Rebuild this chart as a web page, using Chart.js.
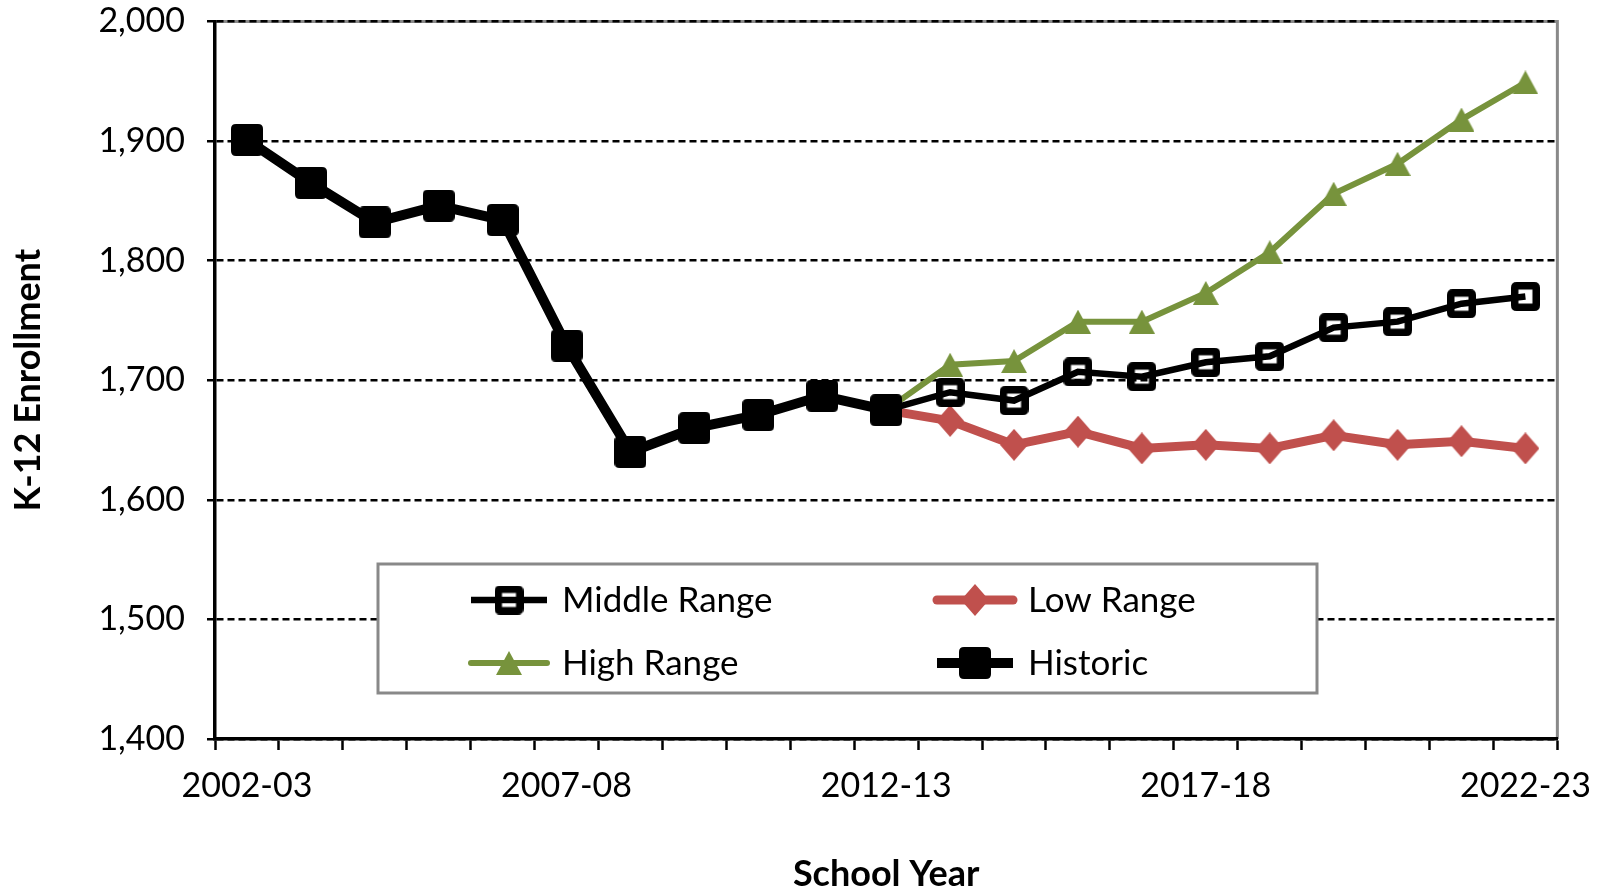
<!DOCTYPE html>
<html>
<head>
<meta charset="utf-8">
<script src="https://cdn.jsdelivr.net/npm/chart.js@4/dist/chart.umd.min.js"></script>
<style>
  html, body { margin: 0; padding: 0; background: #fff; }
</style>
</head>
<body>
<canvas id="chart" width="1608" height="894"></canvas>
<script>
const years = ['2002-03', '2003-04', '2004-05', '2005-06', '2006-07', '2007-08', '2008-09',
	'2009-10', '2010-11', '2011-12', '2012-13', '2013-14', '2014-15', '2015-16', '2016-17',
	'2017-18', '2018-19', '2019-20', '2020-21', '2021-22', '2022-23'];

const historic = [1901, 1865, 1832, 1846, 1834, 1729, 1640, 1660, 1671, 1687, 1675,
	null, null, null, null, null, null, null, null, null, null];
const middleRange = [null, null, null, null, null, null, null, null, null, null,
	1675, 1690, 1683, 1707, 1703, 1715, 1720, 1744, 1749, 1764, 1770];
const highRange = [null, null, null, null, null, null, null, null, null, null,
	1675, 1713, 1716, 1749, 1749, 1773, 1807, 1856, 1881, 1918, 1949];
const lowRange = [null, null, null, null, null, null, null, null, null, null,
	1675, 1666, 1646, 1657, 1643, 1646, 1643, 1654, 1646, 1649, 1643];

const yMin = 1400, yMax = 2000, yStep = 100;
const labelEvery = 5;

const FONT = "Lato, 'Liberation Sans', sans-serif";
const GREEN = '#77933C';
const RED = '#C0504D';

function roundRect(g, x, y, w, h, r) {
	g.beginPath();
	g.moveTo(x + r, y);
	g.lineTo(x + w - r, y);
	g.quadraticCurveTo(x + w, y, x + w, y + r);
	g.lineTo(x + w, y + h - r);
	g.quadraticCurveTo(x + w, y + h, x + w - r, y + h);
	g.lineTo(x + r, y + h);
	g.quadraticCurveTo(x, y + h, x, y + h - r);
	g.lineTo(x, y + r);
	g.quadraticCurveTo(x, y, x + r, y);
	g.closePath();
}

function marker(w, h, draw) {
	const c = document.createElement('canvas');
	c.width = w;
	c.height = h;
	draw(c.getContext('2d'), w, h);
	return c;
}

const historicMark = marker(32, 32, (g, w, h) => {
	g.fillStyle = '#000';
	roundRect(g, 0, 0, w, h, 5);
	g.fill();
});
const middleMark = marker(29, 29, (g, w, h) => {
	g.strokeStyle = '#000';
	g.lineWidth = 7.5;
	roundRect(g, 3.75, 3.75, w - 7.5, h - 7.5, 2);
	g.stroke();
});
const highMark = marker(26, 24, (g, w, h) => {
	g.fillStyle = GREEN;
	g.beginPath();
	g.moveTo(w / 2, 0);
	g.lineTo(w, h);
	g.lineTo(0, h);
	g.closePath();
	g.fill();
});
const lowMark = marker(28, 32, (g, w, h) => {
	g.fillStyle = RED;
	g.beginPath();
	g.moveTo(w / 2, 0);
	g.lineTo(w, h / 2);
	g.lineTo(w / 2, h);
	g.lineTo(0, h / 2);
	g.closePath();
	g.fill();
});

// hide the projection markers on the shared 2012-13 point
const hideFirst = ctx => ctx.dataIndex === 10 ? 0 : 14;

const datasets = [
	{label: 'Historic', data: historic, borderColor: '#000', borderWidth: 10,
		pointStyle: historicMark, pointRadius: 14, order: 0},
	{label: 'Middle Range', data: middleRange, borderColor: '#000', borderWidth: 6.5,
		pointStyle: middleMark, pointRadius: hideFirst, order: 1},
	{label: 'Low Range', data: lowRange, borderColor: RED, borderWidth: 9,
		pointStyle: lowMark, pointRadius: hideFirst, order: 2},
	{label: 'High Range', data: highRange, borderColor: GREEN, borderWidth: 6,
		pointStyle: highMark, pointRadius: hideFirst, order: 3}
];

// grey frame on top and right of the plot
const frame = {
	id: 'frame',
	beforeDraw(chart) {
		const {ctx, chartArea: a} = chart;
		ctx.save();
		ctx.strokeStyle = '#898989';
		ctx.lineWidth = 3;
		ctx.beginPath();
		ctx.moveTo(a.left, a.top);
		ctx.lineTo(a.right, a.top);
		ctx.lineTo(a.right, a.bottom);
		ctx.stroke();
		ctx.restore();
	}
};

// boxed two-column legend inside the plot
const legendBox = {
	id: 'legendBox',
	afterDraw(chart) {
		const {ctx, chartArea: a} = chart;
		const x0 = a.left + 163, y0 = a.top + 542.5, w = 939, h = 129;
		ctx.save();
		ctx.fillStyle = '#fff';
		ctx.fillRect(x0, y0, w, h);
		ctx.strokeStyle = '#898989';
		ctx.lineWidth = 3;
		ctx.strokeRect(x0, y0, w, h);

		const items = [
			{ds: datasets[1], col: 0, row: 0},
			{ds: datasets[2], col: 1, row: 0},
			{ds: datasets[3], col: 0, row: 1},
			{ds: datasets[0], col: 1, row: 1}
		];
		items.forEach(it => {
			const lx = x0 + 89 + it.col * 466;
			const ly = y0 + 36 + it.row * 63;
			ctx.strokeStyle = it.ds.borderColor;
			ctx.lineWidth = it.ds.borderWidth;
			ctx.lineCap = it.ds.borderColor === '#000' ? 'butt' : 'round';
			ctx.beginPath();
			ctx.moveTo(lx + 4, ly);
			ctx.lineTo(lx + 80, ly);
			ctx.stroke();
			const m = it.ds.pointStyle;
			ctx.drawImage(m, lx + 42 - m.width / 2, ly - m.height / 2);
			ctx.fillStyle = '#000';
			ctx.font = '35px ' + FONT;
			ctx.textBaseline = 'middle';
			ctx.textAlign = 'left';
			ctx.fillText(it.ds.label, lx + 95, ly + 1);
		});
		ctx.restore();
	}
};

new Chart(document.getElementById('chart').getContext('2d'), {
	type: 'line',
	data: {labels: years, datasets: datasets},
	options: {
		responsive: false,
		animation: false,
		events: [],
		layout: {autoPadding: false, padding: {top: 21.5, right: 47, left: 0, bottom: 0}},
		elements: {
			line: {tension: 0, fill: false},
			point: {borderWidth: 0}
		},
		plugins: {
			legend: {display: false},
			tooltip: {enabled: false}
		},
		scales: {
			x: {
				type: 'category',
				offset: true,
				grid: {
					offset: true,
					drawOnChartArea: false,
					drawTicks: true,
					tickLength: 11,
					tickWidth: 2.5,
					tickColor: '#000'
				},
				border: {display: true, color: '#000', width: 3.5},
				ticks: {
					autoSkip: false,
					maxRotation: 0,
					minRotation: 0,
					padding: 16,
					color: '#000',
					font: {family: FONT, size: 34},
					callback: (v, i) => i % labelEvery === 0 ? years[i] : ''
				},
				title: {
					display: true,
					text: 'School Year',
					color: '#000',
					font: {family: FONT, size: 36, weight: 'bold'},
					padding: {top: 0, bottom: -2}
				},
				afterFit: s => { s.height = 155; }
			},
			y: {
				min: yMin,
				max: yMax,
				grid: {
					color: '#000',
					lineWidth: 2.5,
					drawTicks: true,
					tickLength: 8,
					tickWidth: 2.5,
					tickColor: '#000',
					tickBorderDash: []
				},
				border: {display: true, color: '#000', width: 3.5, dash: [7, 4]},
				ticks: {
					stepSize: yStep,
					padding: 22,
					color: '#000',
					font: {family: FONT, size: 34},
					callback: v => v.toLocaleString('en-US')
				},
				title: {
					display: true,
					text: 'K-12 Enrollment',
					color: '#000',
					font: {family: FONT, size: 36, weight: 'bold'},
					padding: {top: 7, bottom: 0}
				},
				afterFit: s => {
					s.width = 215;
					s.paddingTop = 0;
					s.paddingBottom = 0;
				}
			}
		}
	},
	plugins: [frame, legendBox]
});
</script>
</body>
</html>
